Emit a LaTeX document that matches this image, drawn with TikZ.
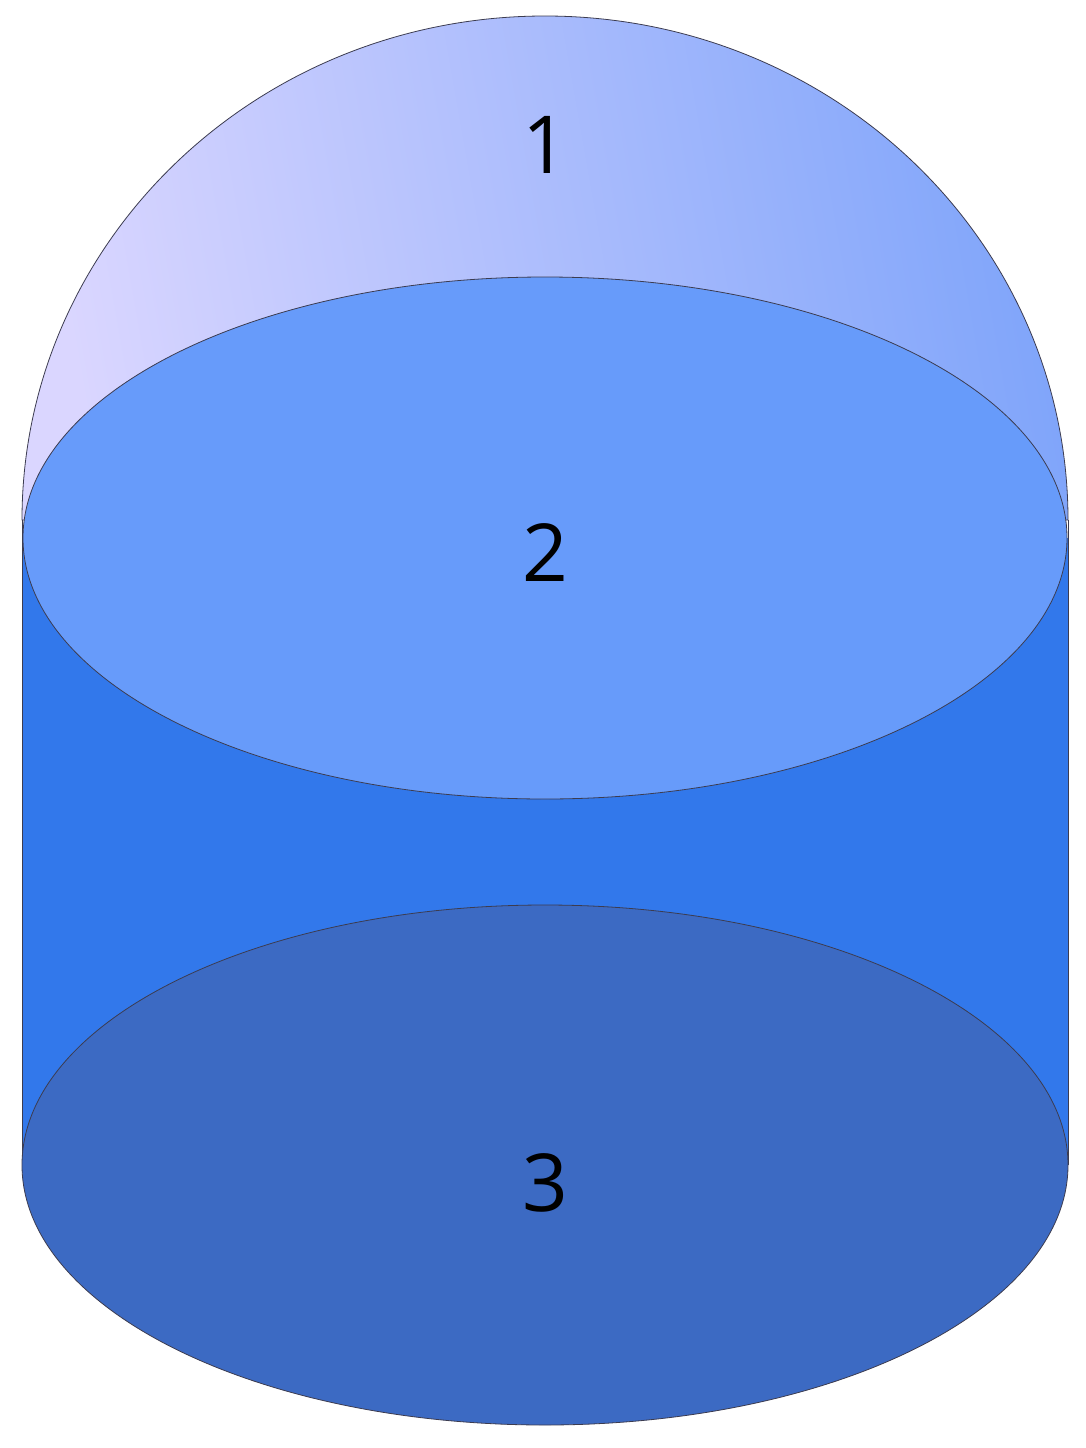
\documentclass[tikz,border=0pt]{standalone}
\usepackage{fontspec}
\setmainfont{Open Sans}
\definecolor{domeL}{RGB}{218,214,255}
\definecolor{domeR}{RGB}{128,165,250}
\definecolor{topc}{RGB}{103,155,250}
\definecolor{sidec}{RGB}{50,120,235}
\definecolor{botc}{RGB}{60,106,195}
\definecolor{edge}{RGB}{60,60,80}
\tikzset{lab/.style={font=\fontsize{80}{80}\selectfont, text=black}}
\begin{document}
\begin{tikzpicture}[x=1pt,y=-1pt]
\useasboundingbox (0,0) rectangle (1086,1448);
\fill[white] (0,0) rectangle (1086,1448);
% dome
\shade[left color=domeL, right color=domeR, shading angle=100, draw=edge, line width=0.8pt]
  (22,520) arc[start angle=180, end angle=360, x radius=523, y radius=504] -- cycle;
% cylinder side
\fill[sidec] (22,538) rectangle (1068,1165);
\draw[edge, line width=0.8pt] (22,520) -- (22,1165) (1068,520) -- (1068,1165);
% bottom ellipse
\draw[fill=botc, draw=edge, line width=0.8pt] (545,1165) ellipse[x radius=523, y radius=260];
% top ellipse
\draw[fill=topc, draw=edge, line width=0.8pt] (545,538) ellipse[x radius=522, y radius=261];
\node[lab] (n1) at (545,145) {1};
\node[lab] (n2) at (545,553) {2};
\node[lab] (n3) at (545,1183) {3};
\end{tikzpicture}
\end{document}
